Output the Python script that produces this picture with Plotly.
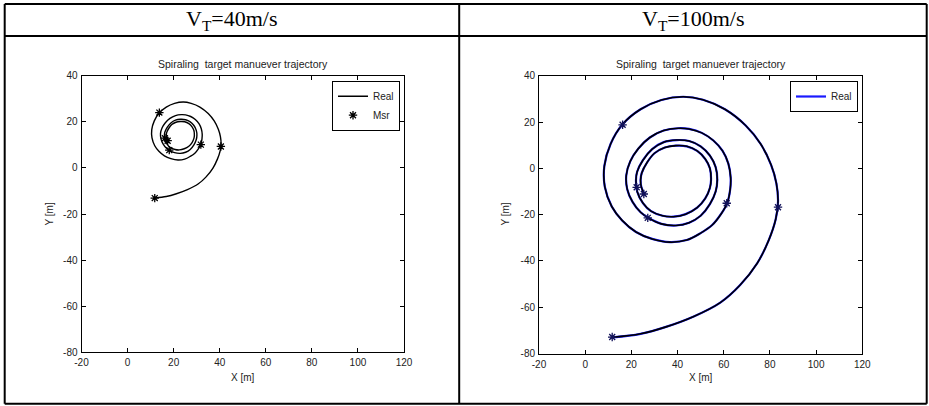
import plotly.graph_objects as go

# ---- trajectory data (metres) ----
# V_T = 100 m/s : real trajectory
real100_x = [12, 24, 35, 47, 58.5, 67, 74.5, 79.5, 82.5, 83.5, 82.8, 80.5, 76, 69.5, 60.5, 51, 42.5,
             33, 24, 16.2, 11, 8.3, 8.5, 11.5, 16, 22, 29, 36.7, 44, 50, 55, 59, 61.5, 62.8, 63,
             62, 59.5, 55.5, 50.5, 45, 40.3, 34, 28, 23, 19.5, 17.8, 18.2, 20.5, 24, 27.5, 33,
             39.3, 45, 50, 54, 56.5, 57.2, 56.5, 54, 50, 45, 39.6, 34, 29, 25, 22.5, 22, 22.5,
             25, 28.5, 33.5, 38.2, 43.5, 48.5, 52, 54, 54.5, 54, 52, 48.5, 44, 39.3, 34.5, 30,
             26.8, 24.5, 24, 24.3, 25.5]
real100_y = [-73, -71.5, -68.5, -64, -58, -50.5, -41, -31, -22, -14.5, -6.5, 1.5, 10.5, 18.5, 25.5, 29.6,
             30.9, 29.5, 25.5, 19, 10.5, 1, -8, -16.5, -22.5, -27.5, -30.5, -31.9, -31, -28,
             -24.5, -19.5, -15, -9, -4, 2, 7.5, 12, 15.3, 17, 17.3, 16.3, 13.3, 8.5, 3, -3, -9,
             -14.5, -19, -21.5, -24, -24.7, -23.5, -20.5, -15.5, -10, -5, 0.5, 5.5, 9.5, 11.8,
             12.2, 11.3, 8.3, 3.5, -1.5, -5, -10, -15, -18.5, -20.5, -20.9, -19.8, -17, -13,
             -8.5, -5, 0, 4, 7.5, 9.5, 9.8, 9, 6.5, 2.5, -2, -5, -8, -11]
msr100_x = [11.7, 83.5, 16.2, 61.3, 27.1, 22.3, 25.4]
msr100_y = [-72.9, -16.8, 18.8, -15.1, -21.4, -8.2, -11.1]

# V_T = 40 m/s : real trajectory
real40_x = [12.0, 16.8, 21.2, 26.0, 30.6, 34.0, 37.0, 39.0, 40.2, 40.6, 40.3, 39.4, 37.6, 35.0,
            31.4, 27.6, 24.2, 20.4, 16.8, 13.7, 11.6, 10.5, 10.6, 11.8, 13.6, 16.0, 18.8, 21.9,
            24.8, 27.2, 29.2, 30.8, 31.8, 32.3, 32.4, 32.0, 31.0, 29.4, 27.4, 25.2, 23.3, 20.8,
            18.4, 16.4, 15.0, 14.3, 14.5, 15.4, 16.8, 18.2, 20.4, 22.9, 25.2, 27.2, 28.8, 29.8,
            30.1, 29.8, 28.8, 27.2, 25.2, 23.0, 20.8, 18.8, 17.2, 16.2, 16.0, 16.2, 17.2, 18.6,
            20.6, 22.5, 24.6, 26.6, 28.0, 28.8, 29.0, 28.8, 28.0, 26.6, 24.8, 22.9, 21.0, 19.2,
            17.9, 17.0, 16.8, 16.9, 17.4]
real40_y = [-13.0, -12.4, -11.2, -9.4, -7.0, -4.0, -0.2, 3.8, 7.4, 10.4, 13.6, 16.8, 20.4, 23.6,
            26.4, 28.0, 28.6, 28.0, 26.4, 23.8, 20.4, 16.6, 13.0, 9.6, 7.2, 5.2, 4.0, 3.4, 3.8,
            5.0, 6.4, 8.4, 10.2, 12.6, 14.6, 17.0, 19.2, 21.0, 22.3, 23.0, 23.1, 22.7, 21.5,
            19.6, 17.4, 15.0, 12.6, 10.4, 8.6, 7.6, 6.6, 6.3, 6.8, 8.0, 10.0, 12.2, 14.2, 16.4,
            18.4, 20.0, 20.9, 21.1, 20.7, 19.5, 17.6, 15.6, 14.2, 12.2, 10.2, 8.8, 8.0, 7.8, 8.3,
            9.4, 11.0, 12.8, 14.2, 16.2, 17.8, 19.2, 20.0, 20.1, 19.8, 18.8, 17.2, 15.4, 14.2,
            13.0, 11.8]
msr40_x = [11.8, 40.5, 13.8, 31.8, 18.1, 16.2, 17.4]
msr40_y = [-13.1, 9.3, 24.0, 10.1, 7.7, 12.9, 11.8]

x_ticks = [-20, 0, 20, 40, 60, 80, 100, 120]
x_ticktext = ["-20", "0", "20", "40", "60", "80", "100", "120"]
y_ticks = [-80, -60, -40, -20, 0, 20, 40]
y_ticktext = ["-80", "-60", "-40", "-20", "0", "20", "40"]
headers = ["V<sub>T</sub>=40m/s", "V<sub>T</sub>=100m/s"]
plot_title = "Spiraling\u00a0 target manuever trajectory"

W, H = 929, 406


def px(x):
    return x / W


def py(y):
    return 1 - y / H


fig = go.Figure()

# left panel
fig.add_trace(go.Scatter(x=real40_x, y=real40_y, mode="lines", name="Real",
                         line=dict(color="black", width=1.4, shape="spline", smoothing=1.0),
                         xaxis="x", yaxis="y", legend="legend"))
fig.add_trace(go.Scatter(x=msr40_x, y=msr40_y, mode="markers", name="Msr",
                         marker=dict(symbol="asterisk-open", size=7, color="black",
                                     line=dict(color="black", width=1.3)),
                         xaxis="x", yaxis="y", legend="legend"))

# right panel
fig.add_trace(go.Scatter(x=real100_x, y=real100_y, mode="lines", name="Real",
                         line=dict(color="#1a1aff", width=2.2, shape="spline", smoothing=1.0),
                         xaxis="x2", yaxis="y2", legend="legend2"))
fig.add_trace(go.Scatter(x=real100_x, y=real100_y, mode="lines", name="Est",
                         line=dict(color="black", width=1.6, shape="spline", smoothing=1.0),
                         xaxis="x2", yaxis="y2", showlegend=False))
fig.add_trace(go.Scatter(x=msr100_x, y=msr100_y, mode="markers", name="Msr",
                         marker=dict(symbol="asterisk-open", size=7, color="#12125a",
                                     line=dict(color="#12125a", width=1.3)),
                         xaxis="x2", yaxis="y2", showlegend=False))

tick_font = dict(family="Liberation Sans, Arial, sans-serif", size=10, color="#222")
axis_common = dict(ticks="inside", ticklen=4, tickcolor="black", tickwidth=1,
                   showline=True, linecolor="black", linewidth=1, mirror="ticks",
                   showgrid=False, zeroline=False, tickfont=tick_font, fixedrange=True,
                   automargin=False)

panels = [
    dict(x0=81.5, x1=404, y0=75.7, y1=352.3),
    dict(x0=539, x1=862.3, y0=75.7, y1=353.5),
]

layout_axes = {}
for i, p in enumerate(panels):
    sx = "" if i == 0 else "2"
    layout_axes["xaxis" + sx] = dict(domain=[px(p["x0"]), px(p["x1"])], range=[-20, 120],
                                     tickvals=x_ticks, ticktext=x_ticktext,
                                     ticklabelstandoff=1, anchor="y" + sx, **axis_common)
    layout_axes["yaxis" + sx] = dict(domain=[py(p["y1"]), py(p["y0"])], range=[-80, 40],
                                     tickvals=y_ticks, ticktext=y_ticktext,
                                     ticklabelstandoff=1, anchor="x" + sx, **axis_common)

legend_font = dict(family="Liberation Sans, Arial, sans-serif", size=10, color="#222")
fig.update_layout(
    width=W, height=H, margin=dict(l=0, r=0, t=0, b=0),
    paper_bgcolor="white", plot_bgcolor="white",
    legend=dict(x=px(400), y=py(80.7), xanchor="right", yanchor="top",
                bgcolor="white", bordercolor="black", borderwidth=1,
                font=legend_font, itemwidth=30, tracegroupgap=0),
    legend2=dict(x=px(858), y=py(81), xanchor="right", yanchor="top",
                 bgcolor="white", bordercolor="black", borderwidth=1,
                 font=legend_font, itemwidth=30),
    **layout_axes,
)

# table grid
table_lines = [
    (4.7, 4, 926.7, 4), (4.7, 403.7, 926.7, 403.7), (4.7, 4, 4.7, 403.7),
    (926.7, 4, 926.7, 403.7), (459.2, 4, 459.2, 403.7), (4.7, 36, 926.7, 36),
]
for x0, y0, x1, y1 in table_lines:
    fig.add_shape(type="line", xref="paper", yref="paper", x0=px(x0), y0=py(y0),
                  x1=px(x1), y1=py(y1), line=dict(color="black", width=2))

# header cells
for cx, text in zip([232, 693], headers):
    fig.add_annotation(xref="paper", yref="paper", x=px(cx), y=py(20), text=text,
                       showarrow=False, xanchor="center", yanchor="middle",
                       font=dict(family="Liberation Serif, Times New Roman, serif", size=22,
                                 color="black"))

label_font = dict(family="Liberation Sans, Arial, sans-serif", size=10, color="#222")
title_font = dict(family="Liberation Sans, Arial, sans-serif", size=10.5, color="#222")
for p in panels:
    cx = (p["x0"] + p["x1"]) / 2
    cy = (p["y0"] + p["y1"]) / 2
    fig.add_annotation(xref="paper", yref="paper", x=px(cx), y=py(64), text=plot_title,
                       showarrow=False, xanchor="center", yanchor="middle", font=title_font)
    fig.add_annotation(xref="paper", yref="paper", x=px(cx), y=py(377), text="X [m]",
                       showarrow=False, xanchor="center", yanchor="middle", font=label_font)
    fig.add_annotation(xref="paper", yref="paper", x=px(p["x0"] - 33), y=py(cy), text="Y [m]",
                       showarrow=False, xanchor="center", yanchor="middle", textangle=-90,
                       font=label_font)

fig.write_html("out.html")
